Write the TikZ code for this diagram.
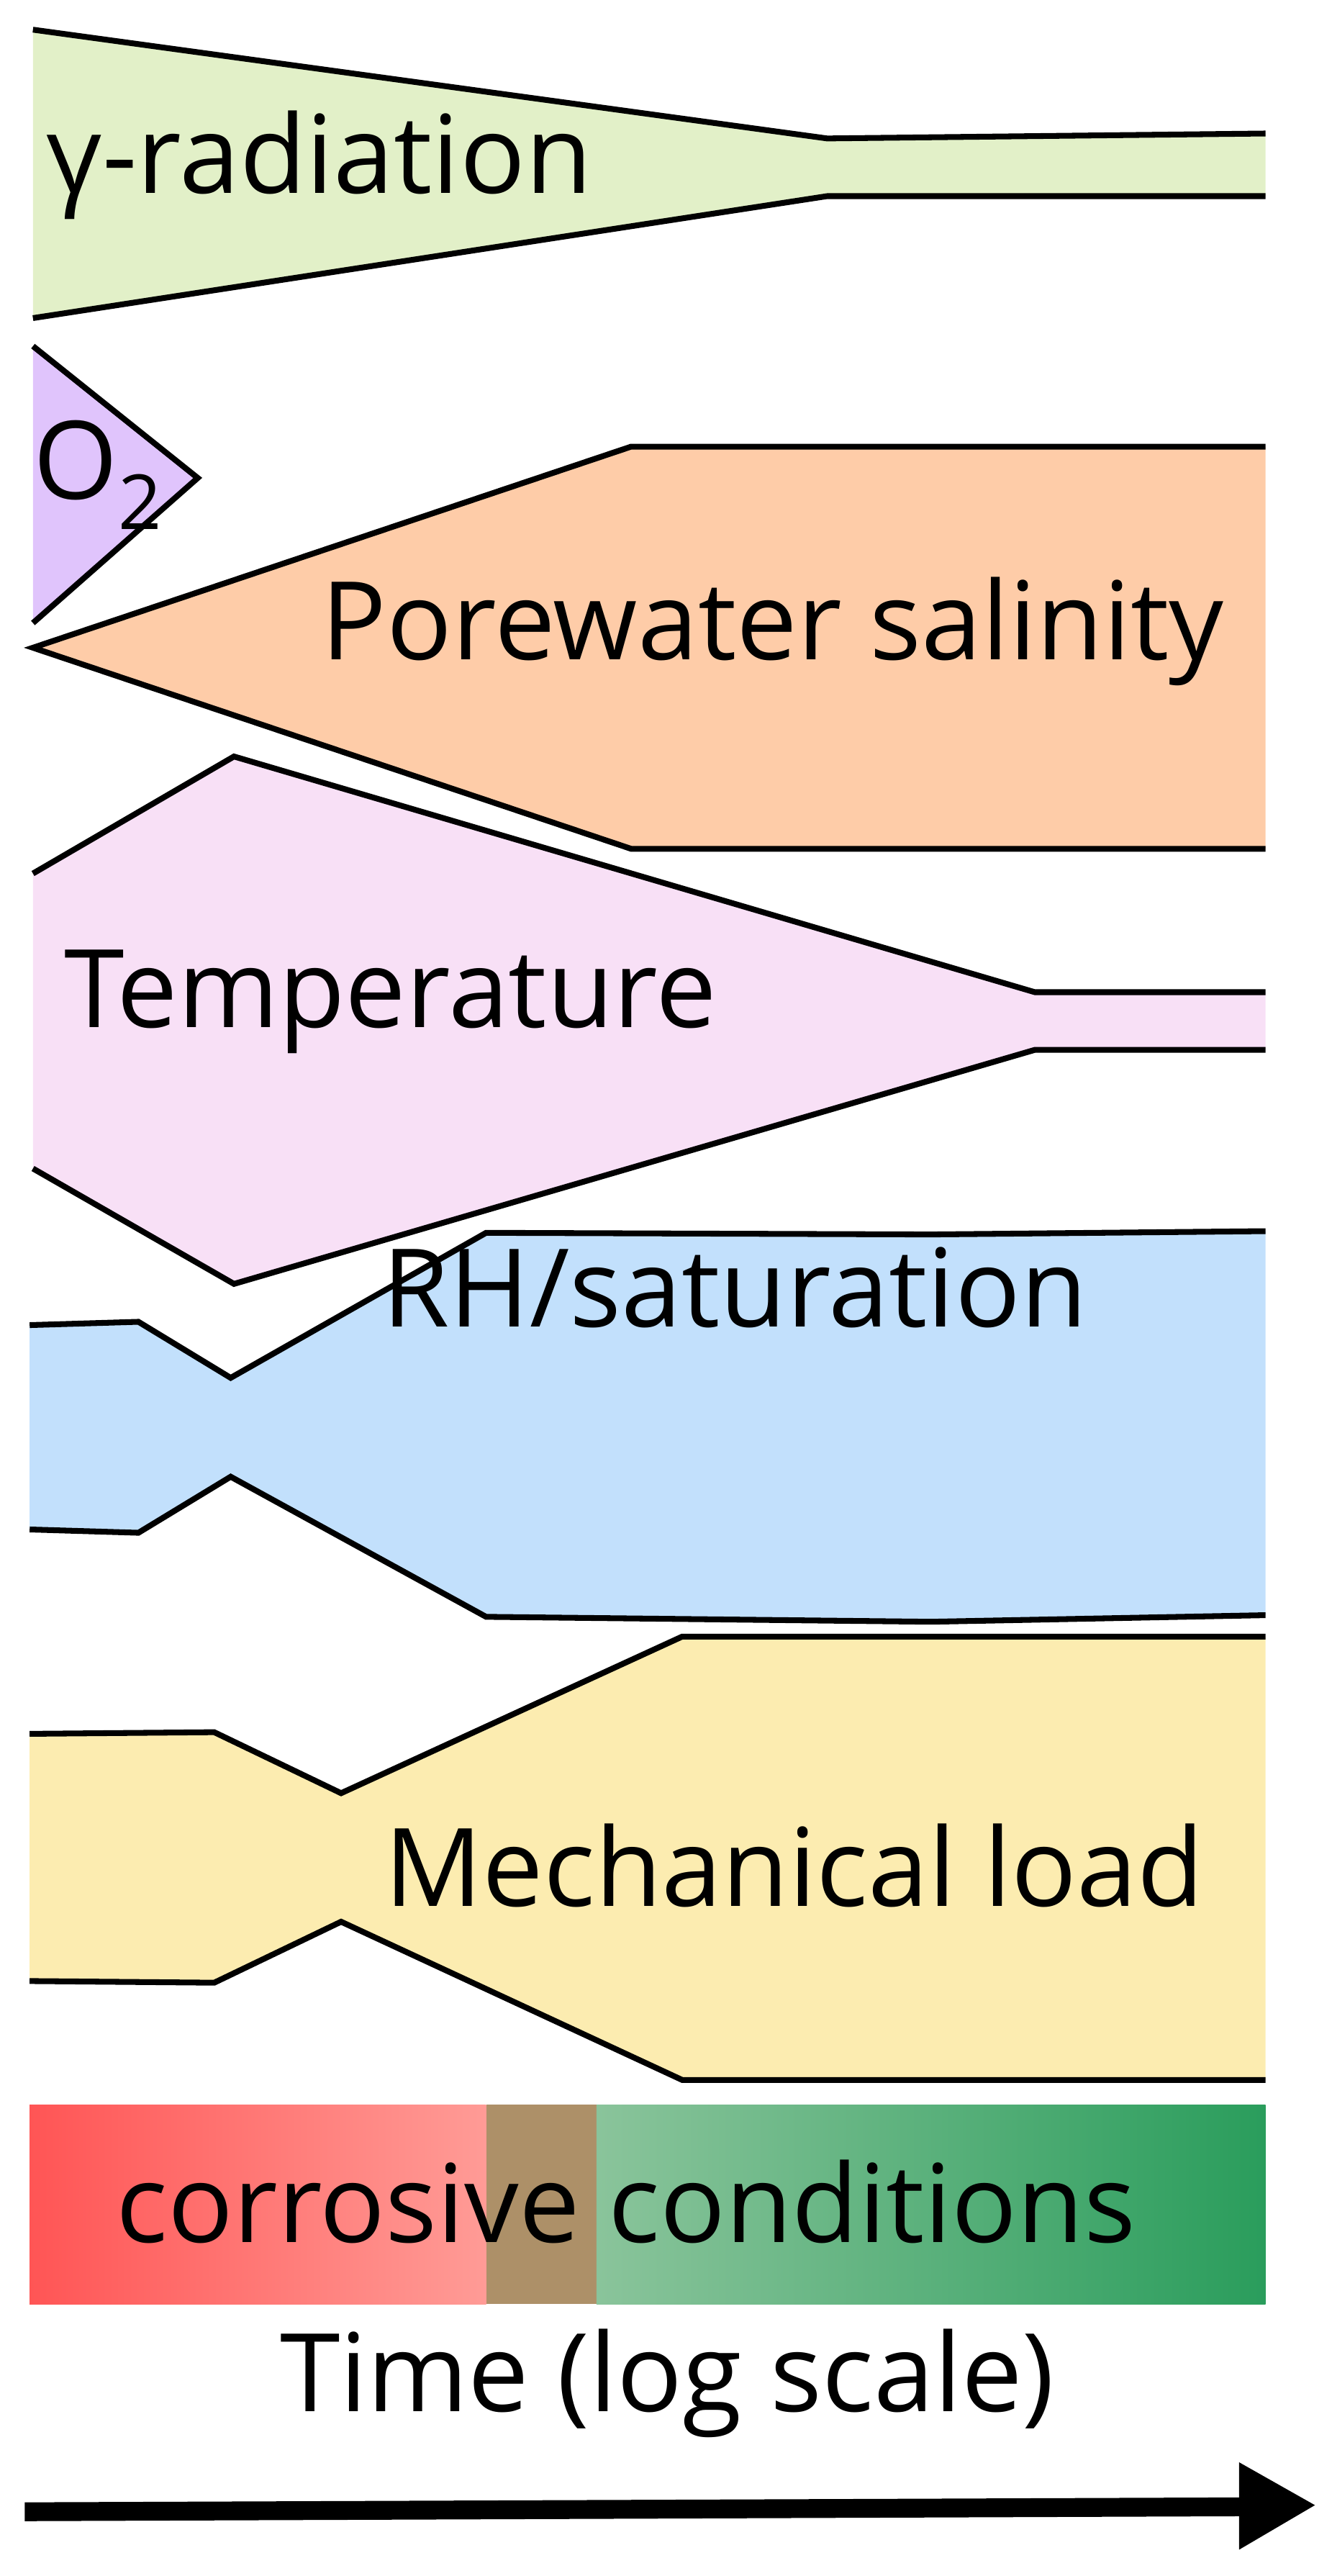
\documentclass[tikz,border=0pt]{standalone}
\usepackage{fontspec}
\setmainfont{Open Sans}
\begin{document}
\begin{tikzpicture}[x=0.02cm,y=-0.02cm,
  edge/.style={line width=2pt,line join=miter},
  lbl/.style={font=\fontsize{37.5}{42}\selectfont,inner sep=0pt}]
\useasboundingbox (0,0) rectangle (808,1563);
\definecolor{cg}{HTML}{E2F0C8}\definecolor{cp}{HTML}{E0C4FC}
\definecolor{co}{HTML}{FECCA8}\definecolor{ct}{HTML}{F8E0F6}
\definecolor{cb}{HTML}{C2E0FC}\definecolor{cy}{HTML}{FCECB0}
% gamma
\fill[cg] (20,18)--(502,84)--(768,81)--(768,119)--(502,119)--(20,193)--cycle;
\draw[edge] (20,18)--(502,84)--(768,81);
\draw[edge] (20,193)--(502,119)--(768,119);
\node[lbl,anchor=west] (g) at (28,100) {γ-radiation};
% O2
\fill[cp] (20,210)--(120,290)--(20,378)--cycle;
\draw[edge] (20,210)--(120,290)--(20,378);
\node[lbl,anchor=west] (o) at (20,288) {O\textsubscript{2}};
% porewater
\fill[co] (20,393)--(383,271)--(768,271)--(768,515)--(383,515)--cycle;
\draw[edge] (768,271)--(383,271)--(20,393)--(383,515)--(768,515);
\node[lbl] (p) at (469,383) {Porewater salinity};
% temperature
\fill[ct] (20,530)--(142,459)--(628,602)--(768,602)--(768,637)--(628,637)--(142,779)--(20,709)--cycle;
\draw[edge] (20,530)--(142,459)--(628,602)--(768,602);
\draw[edge] (20,709)--(142,779)--(628,637)--(768,637);
\node[lbl] (t) at (237,608) {Temperature};
% RH
\fill[cb] (18,804)--(84,802)--(140,836)--(295,748)--(565,749)--(768,747)--(768,980)--(565,984)--(295,981)--(140,896)--(84,930)--(18,928)--cycle;
\draw[edge] (18,804)--(84,802)--(140,836)--(295,748)--(565,749)--(768,747);
\draw[edge] (18,928)--(84,930)--(140,896)--(295,981)--(565,984)--(768,980);
\node[lbl] (r) at (446,781) {RH/saturation};
% mechanical
\fill[cy] (18,1052)--(130,1051)--(207,1088)--(414,993)--(768,993)--(768,1262)--(414,1262)--(207,1166)--(130,1203)--(18,1202)--cycle;
\draw[edge] (18,1052)--(130,1051)--(207,1088)--(414,993)--(768,993);
\draw[edge] (18,1202)--(130,1203)--(207,1166)--(414,1262)--(768,1262);
\node[lbl] (m) at (482,1132) {Mechanical load};
% corrosive bar
\shade[left color={rgb,255:red,255;green,85;blue,85},right color={rgb,255:red,255;green,155;blue,150}] (18,1277) rectangle (295,1398);
\fill[fill={rgb,255:red,173;green,144;blue,104}] (295,1277) rectangle (362,1398);
\shade[left color={rgb,255:red,138;green,196;blue,155},right color={rgb,255:red,42;green,157;blue,92}] (362,1277) rectangle (768,1398);
\node[lbl] (c) at (380,1336) {corrosive conditions};
% time
\node[lbl] (tm) at (405,1446) {Time (log scale)};
\coordinate (a0) at (15,1524);
\coordinate (a1) at (755,1521);
\draw[line width=6.5pt] (a0)--(a1);
\fill (752,1494)--(798,1520)--(752,1547)--cycle;
\end{tikzpicture}
\end{document}
